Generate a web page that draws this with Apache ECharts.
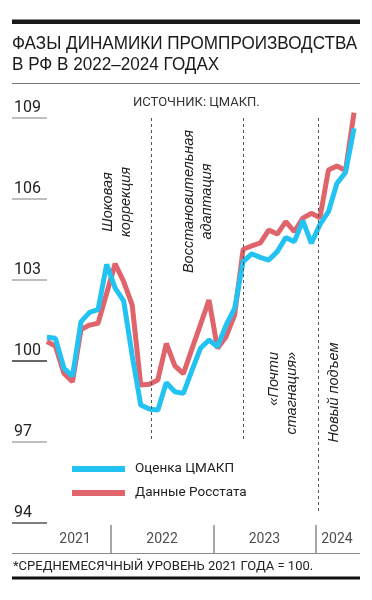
<!DOCTYPE html>
<html><head><meta charset="utf-8">
<script src="https://cdn.jsdelivr.net/npm/echarts@6/dist/echarts.min.js"></script>
<style>html,body{margin:0;padding:0;background:#fff}#c{width:372px;height:600px}</style>
</head><body><div id="c"></div>
<script>
// Months (year-month), May 2021 .. May 2024
const months = [
 '2021-05','2021-06','2021-07','2021-08','2021-09','2021-10','2021-11','2021-12',
 '2022-01','2022-02','2022-03','2022-04','2022-05','2022-06','2022-07','2022-08','2022-09','2022-10','2022-11','2022-12',
 '2023-01','2023-02','2023-03','2023-04','2023-05','2023-06','2023-07','2023-08','2023-09','2023-10','2023-11','2023-12',
 '2024-01','2024-02','2024-03','2024-04','2024-05'];
// Оценка ЦМАКП
const cmakp = [100.88,100.84,99.73,99.44,101.46,101.8,101.9,103.58,
 102.7,102.23,100.2,98.37,98.22,98.18,99.2,98.86,98.8,99.65,100.47,100.78,
 100.53,101.33,101.95,103.68,103.97,103.84,103.74,104.05,104.57,104.42,105.2,104.36,
 105.05,105.53,106.58,106.98,108.62];
// Данные Росстата
const rosstat = [100.72,100.55,99.54,99.23,101.17,101.33,101.4,102.5,
 103.6,102.94,102.07,99.11,99.14,99.3,100.65,99.82,99.53,100.45,101.35,102.26,
 100.47,100.9,101.7,104.14,104.26,104.37,104.85,104.7,105.16,104.79,105.29,105.47,
 105.3,107.07,107.22,107.05,109.2];
// y tick labels
const yTicks = [94, 97, 100, 103, 106, 109];
// years band
const years = ['2021','2022','2023','2024'];
const yearLabelAt = [7.8, 18, 30, 38.5];     // months since Jan 2021
// phase boundaries (months since Jan 2021) and lower ends (index value)
const phaseX = [16.7, 27.5, 36.3];
const phaseLow = [97, 97, 94.4];
const phaseHigh = 109;

const monthPos = s => { const [y, m] = s.split('-').map(Number); return (y - 2021) * 12 + (m - 1) + 0.5; };
const seriesData = vals => vals.map((v, i) => [monthPos(months[i]), v]);

const BLUE = '#22c3f2', RED = '#df646c';
const chart = echarts.init(document.getElementById('c'), null, {renderer: 'canvas'});

const annot = (x, y, text, align) => ({
  type: 'text', x, y, rotation: Math.PI / 2, silent: true,
  style: {text, fontFamily: '"Liberation Sans", sans-serif', fontStyle: 'italic', fontSize: 14.5,
          lineHeight: 18, fill: '#222', align: align || 'center', verticalAlign: 'middle'}
});
const titleLine = (y, text) => ({
  type: 'text', x: 12, y, scaleX: 0.9, silent: true,
  style: {text, fontFamily: '"Liberation Sans", sans-serif', fontSize: 19, fill: '#1a1a1a', verticalAlign: 'middle'}
});

chart.setOption({
  animation: false,
  grid: [
    {left: 8.5, right: 12, top: 91, height: 432},
    {left: 12, width: 35, top: 118, height: 405},
    {left: 8.5, right: 12, top: 525, height: 28}
  ],
  xAxis: [
    {gridIndex: 0, type: 'value', min: 0, max: 41.2, show: false},
    {gridIndex: 1, type: 'value', min: 0, max: 1, show: false},
    {gridIndex: 2, type: 'value', min: 0, max: 41.2, interval: 12,
     axisLine: {show: false}, axisTick: {show: false}, axisLabel: {show: false},
     splitLine: {show: true, lineStyle: {color: ['rgba(0,0,0,0)', '#8a8a8a', '#8a8a8a', '#8a8a8a', 'rgba(0,0,0,0)'], width: 1.5}}}
  ],
  yAxis: [
    {gridIndex: 0, type: 'value', min: 94, max: 110, show: false},
    {gridIndex: 1, type: 'value', min: 94, max: 109, interval: 3,
     axisLine: {show: false}, axisTick: {show: false},
     splitLine: {show: true, lineStyle: {color: ['#555', '#aaa', '#333', '#aaa', '#aaa', '#aaa'], width: 1.5}},
     axisLabel: {inside: true, margin: 2, align: 'left', verticalAlign: 'bottom', padding: [0, 0, 2, 0],
                 fontFamily: 'Roboto', fontSize: 16, color: '#222',
                 formatter: v => yTicks.includes(v) ? String(v) : ''}},
    {gridIndex: 2, type: 'value', min: 0, max: 1, show: false}
  ],
  legend: {
    orient: 'vertical', left: 72, top: 460, itemWidth: 53, itemHeight: 6, itemGap: 6, icon: 'rect',
    padding: 0, data: ['Оценка ЦМАКП', 'Данные Росстата'],
    textStyle: {fontFamily: 'Roboto', fontSize: 13.5, color: '#222', lineHeight: 18, padding: [0, 0, 0, 5]}
  },
  series: [
    {name: 'Данные Росстата', type: 'line', xAxisIndex: 0, yAxisIndex: 0, data: seriesData(rosstat),
     symbol: 'none', color: RED, lineStyle: {color: RED, width: 5}, clip: false, z: 2,
     markLine: {symbol: 'none', silent: true, label: {show: false},
       lineStyle: {type: [3, 3], color: '#555', width: 1},
       data: phaseX.map((x, i) => [{coord: [x, phaseHigh]}, {coord: [x, phaseLow[i]]}])}},
    {name: 'Оценка ЦМАКП', type: 'line', xAxisIndex: 0, yAxisIndex: 0, data: seriesData(cmakp),
     symbol: 'none', color: BLUE, lineStyle: {color: BLUE, width: 5}, clip: false, z: 3},
    {type: 'scatter', xAxisIndex: 2, yAxisIndex: 2, symbolSize: 0, silent: true,
     data: years.map((y, i) => [yearLabelAt[i], 0.5, y]),
     label: {show: true, position: 'inside', formatter: p => p.data[2],
             fontFamily: 'Roboto', fontSize: 14, color: '#222'}}
  ],
  graphic: [
    {type: 'rect', shape: {x: 12, y: 19.5, width: 348, height: 4.5}, style: {fill: '#1a1a1a'}},
    titleLine(44, 'ФАЗЫ ДИНАМИКИ ПРОМПРОИЗВОДСТВА'),
    titleLine(65, 'В РФ В 2022–2024 ГОДАХ'),
    {type: 'line', shape: {x1: 12, y1: 83.5, x2: 360, y2: 83.5}, style: {stroke: '#777', lineWidth: 1}},
    {type: 'text', x: 133, y: 103, style: {text: 'ИСТОЧНИК: ЦМАКП.', fontFamily: 'Roboto', fontSize: 13, fill: '#333', verticalAlign: 'middle'}},
    annot(117, 202, 'Шоковая\nкоррекция'),
    annot(198, 201.5, 'Восстановительная\nадаптация'),
    annot(283, 352, '«Почти\nстагнация»', 'right'),
    annot(334, 392.5, 'Новый подъем'),
    {type: 'line', shape: {x1: 12, y1: 553.5, x2: 360, y2: 553.5}, style: {stroke: '#888', lineWidth: 1}},
    {type: 'text', x: 13, y: 567, style: {text: '*СРЕДНЕМЕСЯЧНЫЙ УРОВЕНЬ 2021 ГОДА = 100.', fontFamily: 'Roboto', fontSize: 13, fill: '#222', verticalAlign: 'middle'}},
    {type: 'rect', shape: {x: 12, y: 576.5, width: 348, height: 3}, style: {fill: '#111'}}
  ]
});
</script></body></html>
